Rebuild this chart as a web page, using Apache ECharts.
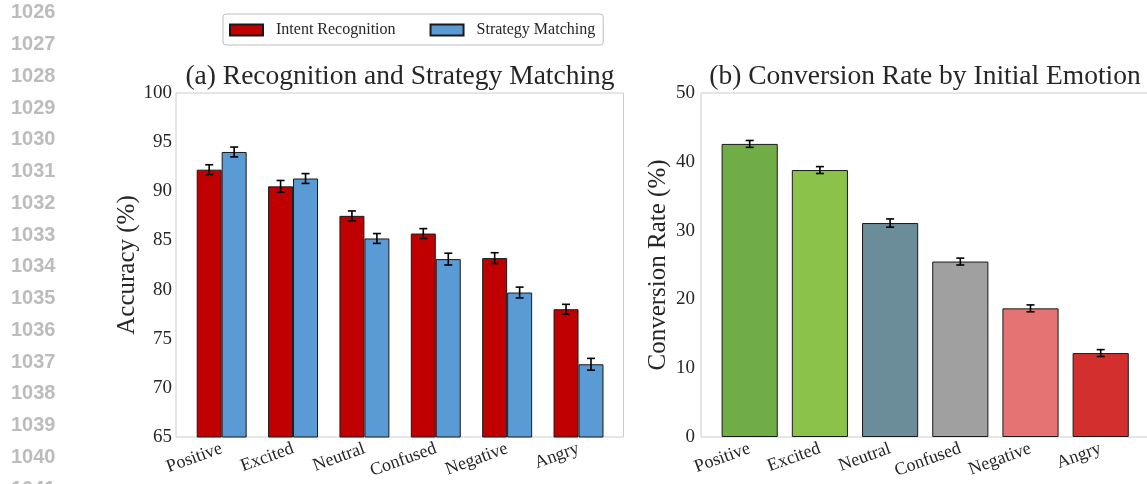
<!DOCTYPE html>
<html>
<head>
<meta charset="utf-8">
<script src="https://cdn.jsdelivr.net/npm/echarts@6/dist/echarts.min.js"></script>
<style>
  html, body { margin: 0; padding: 0; background: #fff; }
  #chart { width: 1147px; height: 484px; }
</style>
</head>
<body>
<div id="chart"></div>
<script>
// Emotion categories shared by both panels
const emotions = ['Positive', 'Excited', 'Neutral', 'Confused', 'Negative', 'Angry'];

// Panel (a): accuracy (%) with error margins
const intentAcc = [92.2, 90.5, 87.5, 85.7, 83.2, 78.0];
const intentErr = [0.5, 0.6, 0.5, 0.5, 0.55, 0.5];
const strategyAcc = [94.0, 91.3, 85.2, 83.1, 79.7, 72.4];
const strategyErr = [0.5, 0.5, 0.5, 0.6, 0.55, 0.6];

// Panel (b): conversion rate (%) with error margins
const conversion = [42.6, 38.8, 31.1, 25.5, 18.7, 12.2];
const conversionErr = [0.5, 0.5, 0.6, 0.5, 0.5, 0.5];
const conversionColors = ['#70ad47', '#8bc34a', '#6a8d99', '#a0a0a0', '#e57373', '#d32f2f'];

// Axis ranges
const accAxis = { min: 65, max: 100, interval: 5 };
const convAxis = { min: 0, max: 50, interval: 10 };

// Page line numbers printed in the margin
const lineNumbers = [1026, 1027, 1028, 1029, 1030, 1031, 1032, 1033, 1034, 1035, 1036, 1037, 1038, 1039, 1040, 1041];

const SERIF = '"Liberation Serif", "Times New Roman", serif';
const TEXT = '#262626';

const chart = echarts.init(document.getElementById('chart'), null, { renderer: 'canvas' });

// Error bar with caps, positioned inside the category band by offsetFrac
function errorBars(name, values, errs, offsetFrac, xi, yi) {
  return {
    name: name + ' error',
    type: 'custom',
    xAxisIndex: xi,
    yAxisIndex: yi,
    z: 10,
    silent: true,
    data: values.map((v, i) => [i, v - errs[i], v + errs[i]]),
    renderItem(params, api) {
      const i = api.value(0);
      const lo = api.coord([i, api.value(1)]);
      const hi = api.coord([i, api.value(2)]);
      const band = api.size([1, 0])[0];
      const cx = lo[0] + band * offsetFrac;
      const cap = 4;
      const st = { stroke: '#000', lineWidth: 1.6 };
      return {
        type: 'group',
        children: [
          { type: 'line', shape: { x1: cx, y1: lo[1], x2: cx, y2: hi[1] }, style: st },
          { type: 'line', shape: { x1: cx - cap, y1: lo[1], x2: cx + cap, y2: lo[1] }, style: st },
          { type: 'line', shape: { x1: cx - cap, y1: hi[1], x2: cx + cap, y2: hi[1] }, style: st }
        ]
      };
    }
  };
}

const hiddenAxis = { type: 'value', show: false, min: 0, max: 1 };

const catAxis = (gridIndex) => ({
  type: 'category',
  gridIndex,
  data: emotions,
  axisLine: { show: false },
  axisTick: { show: false },
  splitLine: { show: false },
  axisLabel: {
    rotate: 20,
    margin: 11,
    fontFamily: SERIF,
    fontSize: 18,
    color: TEXT,
    interval: 0
  }
});

const option = {
  backgroundColor: '#fff',
  animation: false,
  title: [
    {
      text: '(a) Recognition and Strategy Matching',
      left: 400, top: 77, padding: 0,
      textAlign: 'center', textVerticalAlign: 'middle',
      textStyle: { fontFamily: SERIF, fontSize: 27.5, fontWeight: 'normal', color: TEXT }
    },
    {
      text: '(b) Conversion Rate by Initial Emotion',
      left: 925, top: 77, padding: 0,
      textAlign: 'center', textVerticalAlign: 'middle',
      textStyle: { fontFamily: SERIF, fontSize: 27.5, fontWeight: 'normal', color: TEXT }
    }
  ],
  legend: {
    data: ['Intent Recognition', 'Strategy Matching'],
    left: 223,
    top: 14,
    padding: [8, 8, 7, 6],
    icon: 'rect',
    itemWidth: 33,
    itemHeight: 11,
    itemGap: 34,
    borderColor: '#bdbdbd',
    borderWidth: 1,
    borderRadius: 3,
    textStyle: { fontFamily: SERIF, fontSize: 16, color: TEXT, padding: [0, 0, 0, 8] }
  },
  graphic: lineNumbers.map((n, i) => ({
    type: 'text',
    x: 11,
    y: 12.7 + i * 31.77,
    silent: true,
    style: {
      text: String(n),
      fill: '#bcbcbc',
      font: 'bold 20px "Liberation Sans", Arial, sans-serif',
      verticalAlign: 'middle'
    }
  })),
  grid: [
    // frame of panel (a)
    { left: 176, top: 93, width: 447.5, height: 344, show: true, borderColor: '#cccccc', borderWidth: 1, backgroundColor: 'transparent', containLabel: false, outerBoundsMode: 'none' },
    // plotting area of panel (a)
    { left: 186, top: 93, width: 428.2, height: 344, containLabel: false, outerBoundsMode: 'none' },
    // frame of panel (b)
    { left: 701, top: 93, width: 448, height: 344, show: true, borderColor: '#cccccc', borderWidth: 1, backgroundColor: 'transparent', containLabel: false, outerBoundsMode: 'none' },
    // plotting area of panel (b)
    { left: 714.6, top: 93, width: 421.2, height: 344, containLabel: false, outerBoundsMode: 'none' }
  ],
  xAxis: [
    Object.assign({ gridIndex: 0 }, hiddenAxis),
    catAxis(1),
    Object.assign({ gridIndex: 2 }, hiddenAxis),
    catAxis(3)
  ],
  yAxis: [
    Object.assign({ gridIndex: 0 }, hiddenAxis),
    {
      type: 'value', gridIndex: 1,
      min: accAxis.min, max: accAxis.max, interval: accAxis.interval,
      offset: 10,
      name: 'Accuracy (%)',
      nameLocation: 'middle',
      nameGap: 35,
      nameTextStyle: { fontFamily: SERIF, fontSize: 25, color: TEXT },
      axisLine: { show: false },
      axisTick: { show: false },
      splitLine: { show: false },
      axisLabel: { margin: 4, fontFamily: SERIF, fontSize: 19, color: TEXT }
    },
    Object.assign({ gridIndex: 2 }, hiddenAxis),
    {
      type: 'value', gridIndex: 3,
      min: convAxis.min, max: convAxis.max, interval: convAxis.interval,
      offset: 13.6,
      name: 'Conversion Rate (%)',
      nameLocation: 'middle',
      nameGap: 30,
      nameTextStyle: { fontFamily: SERIF, fontSize: 25, color: TEXT },
      axisLine: { show: false },
      axisTick: { show: false },
      splitLine: { show: false },
      axisLabel: { margin: 6, fontFamily: SERIF, fontSize: 19, color: TEXT }
    }
  ],
  series: [
    {
      name: 'Intent Recognition',
      type: 'bar',
      xAxisIndex: 1, yAxisIndex: 1,
      data: intentAcc,
      barWidth: '35%',
      barGap: '0%',
      itemStyle: { color: '#c00000', borderColor: '#1a1a1a', borderWidth: 1 }
    },
    {
      name: 'Strategy Matching',
      type: 'bar',
      xAxisIndex: 1, yAxisIndex: 1,
      data: strategyAcc,
      barWidth: '35%',
      barGap: '0%',
      itemStyle: { color: '#5b9bd5', borderColor: '#1a1a1a', borderWidth: 1 }
    },
    errorBars('Intent Recognition', intentAcc, intentErr, -0.175, 1, 1),
    errorBars('Strategy Matching', strategyAcc, strategyErr, 0.175, 1, 1),
    {
      name: 'Conversion Rate',
      type: 'bar',
      xAxisIndex: 3, yAxisIndex: 3,
      barWidth: '80%',
      data: conversion.map((v, i) => ({
        value: v,
        itemStyle: { color: conversionColors[i] }
      })),
      itemStyle: { borderColor: '#1a1a1a', borderWidth: 1 }
    },
    errorBars('Conversion Rate', conversion, conversionErr, 0, 3, 3)
  ]
};

chart.setOption(option);
</script>
</body>
</html>
